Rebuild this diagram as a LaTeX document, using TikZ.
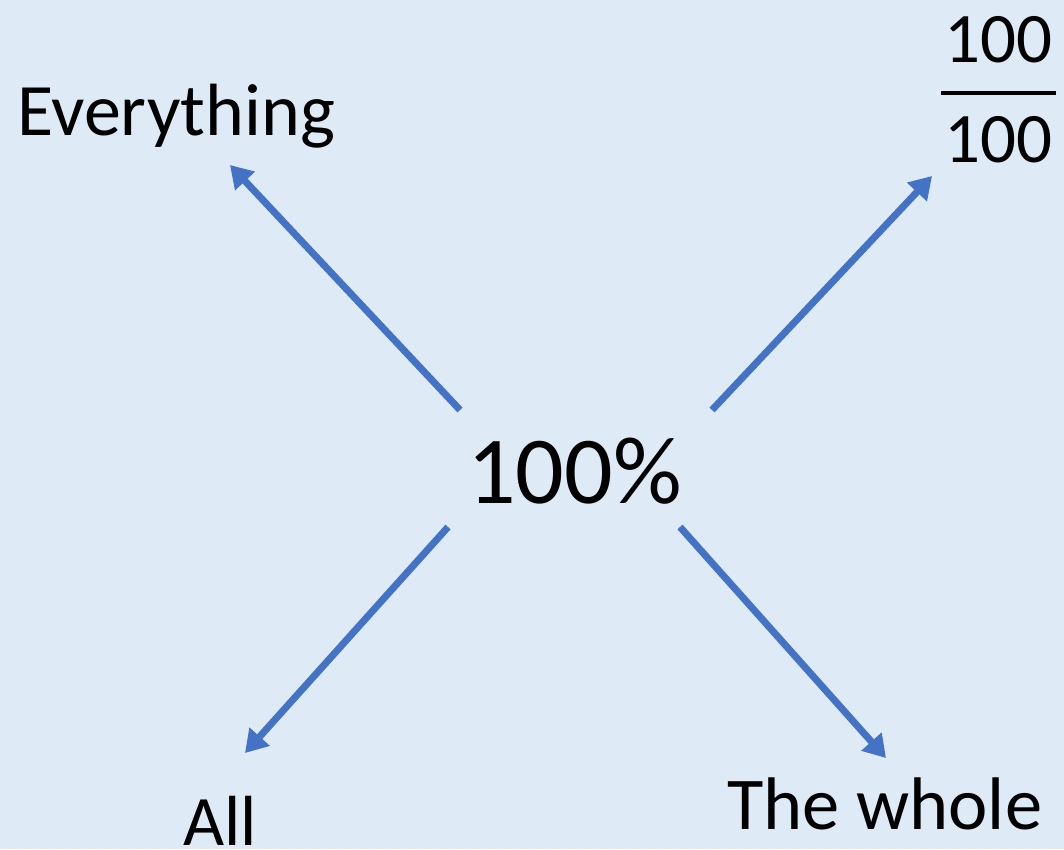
\documentclass[tikz,border=0pt]{standalone}
\usepackage{fontspec}
\setmainfont{Carlito}
\usetikzlibrary{arrows.meta}
\definecolor{bg}{HTML}{DEEAF6}
\definecolor{arr}{HTML}{4472C4}
\tikzset{
  lbl/.style={inner sep=0pt, outer sep=0pt, font=\fontsize{74}{80}\selectfont, anchor=base west},
  conn/.style={draw=arr, line width=7pt, -{Triangle[length=22pt,width=26pt]}},
}
\begin{document}
\begin{tikzpicture}[x=1pt,y=-1pt]
\path[fill=bg] (0,0) rectangle (1064,849);
\useasboundingbox (0,0) rectangle (1064,849);
\node[lbl, font=\fontsize{96}{110}\selectfont] (center) at (467,503) {100\%};
\node[lbl] (every) at (17,135) {Everything};
\node[lbl, font=\fontsize{71}{80}\selectfont] (all) at (183,845) {All};
\node[lbl, font=\fontsize{74.5}{80}\selectfont] (whole) at (727,829) {The whole};
\node[lbl, anchor=base, font=\fontsize{71}{80}\selectfont] (num) at (998,62) {100};
\node[lbl, anchor=base, font=\fontsize{71}{80}\selectfont] (den) at (998,162) {100};
\coordinate (fl) at (941,93);
\coordinate (fr) at (1056,93);
\draw[line width=4pt] (fl) -- (fr);
\coordinate (s1) at (460,410);
\coordinate (t1) at (230,165);
\coordinate (s2) at (712,410);
\coordinate (t2) at (932,176);
\coordinate (s3) at (448,527);
\coordinate (t3) at (245,753);
\coordinate (s4) at (680,527);
\coordinate (t4) at (886,758);
\draw[conn] (s1) -- (t1);
\draw[conn] (s2) -- (t2);
\draw[conn] (s3) -- (t3);
\draw[conn] (s4) -- (t4);
\end{tikzpicture}
\end{document}
